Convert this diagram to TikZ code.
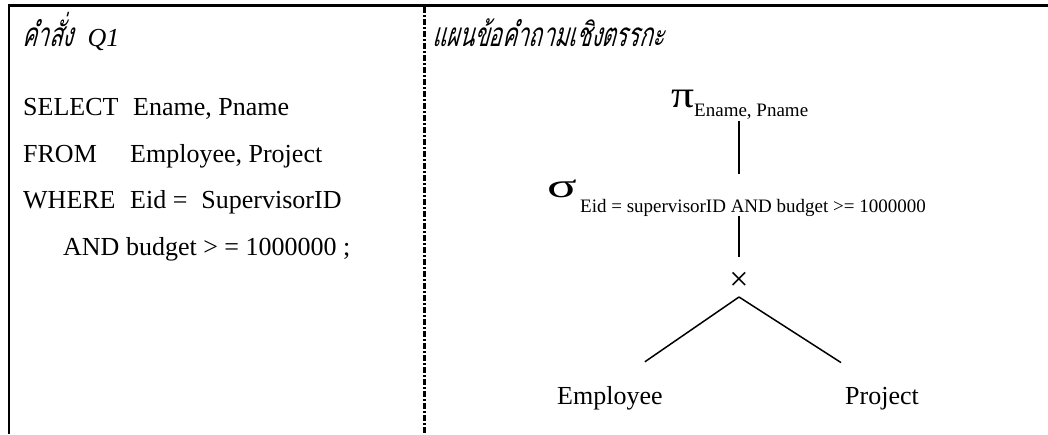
\documentclass[tikz,border=0pt]{standalone}
\usepackage{fontspec}
\usepackage{graphicx}
\setmainfont{Liberation Serif}
\newfontfamily\thaifont[Script=Thai,FakeSlant=0.2]{Loma}
\newcommand{\thaihead}[1]{\scalebox{0.84}[1.28]{\thaifont #1}}
\usetikzlibrary{positioning, calc}

\begin{document}
\begin{tikzpicture}[
  x=1pt, y=-1pt,
  txt/.style={anchor=base west, inner sep=0pt, font=\fontsize{26}{30}\selectfont},
  head/.style={anchor=base west, inner sep=0pt, font=\fontsize{26}{30}\selectfont\itshape},
  sub/.style={anchor=base west, inner sep=0pt, font=\fontsize{19}{22}\selectfont},
  greek/.style={anchor=base west, inner sep=0pt, font=\fontsize{38}{40}\selectfont},
  edge/.style={line width=1.5pt, black},
]

% Page size (1048 x 434 px)
\useasboundingbox (0,0) rectangle (1048,434);

% === Frame: top rule, left rule, dash-dot divider ===
\draw[line width=3pt] (8,5) -- (1048,5);
\draw[line width=2.5pt] (9,4) -- (9,434);
\draw[line width=2.5pt, dash pattern=on 6pt off 2pt on 2pt off 2pt] (424.5,7) -- (424.5,434);

% === Left column: SQL statement ===
\node[head] (q1head) at (22,46) {\thaihead{คำสั่ง}\hspace{8pt} Q1};

\node[txt] (kwsel)   at (23,115) {SELECT};
\node[txt] (valsel)  at (133,115) {Ename, Pname};
\node[txt] (kwfrom)  at (23,162) {FROM};
\node[txt] (valfrom) at (130,162) {Employee, Project};
\node[txt] (kwwhere) at (23,208) {WHERE};
\node[txt] (valwhere) at (130,208) {Eid =\hspace{14pt}SupervisorID};
\node[txt] (valand)  at (63,255) {AND budget > = 1000000 ;};

% === Right column: query tree ===
\node[head] (treehead) at (432,46) {\thaihead{แผนข้อคำถามเชิงตรรกะ}};

\node[greek] (pi)     at (671,107) {\scalebox{1.2}[1]{π}};
\node[sub]   (pisub)  at (694,116) {Ename, Pname};
\node[greek] (sig)    at (547,197) {\scalebox{1.45}[0.9]{σ}};
\node[sub]   (sigsub) at (580,212) {Eid = supervisorID AND budget >= 1000000};
\node[inner sep=0pt, font=\fontsize{34}{36}\selectfont] (cross) at (739,281) {×};
\node[txt] (emp)  at (557,404) {Employee};
\node[txt] (proj) at (845,404) {Project};

% === Tree edges ===
\draw[edge] ([yshift=-2pt]pisub.south -| cross.center) -- ([yshift=5pt]sig.north -| cross.center);
\draw[edge] (sigsub.south -| cross.center) -- ([yshift=24pt]cross.center);
\draw[edge] ([yshift=-16pt]cross.center) -- ([xshift=35pt,yshift=24pt]emp.north);
\draw[edge] ([yshift=-16pt]cross.center) -- ([xshift=-41pt,yshift=24pt]proj.north);

\end{tikzpicture}
\end{document}
